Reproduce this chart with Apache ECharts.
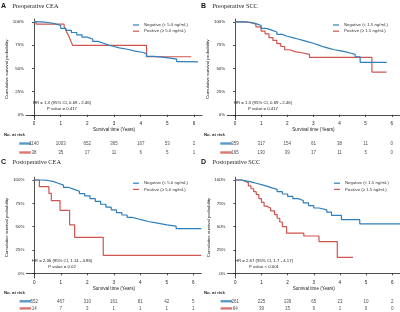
<!DOCTYPE html>
<html>
<head>
<meta charset="utf-8">
<script src="https://cdn.jsdelivr.net/npm/echarts@6/dist/echarts.min.js"></script>
<style>
  html, body { margin: 0; padding: 0; background: #fff; }
  #chart { width: 400px; height: 312px; }
</style>
</head>
<body>
<div id="chart"></div>
<script>
// x ticks / risk table columns
const riskYears = [0, 1, 2, 3, 4, 5, 6]
const survTicks = [0, 0.25, 0.5, 0.75, 1]

// A  Preoperative CEA
const preCeaNegTime = [0, 0.3, 0.6, 0.8, 1.0, 1.2, 1.4, 1.6, 1.8, 2.0, 2.2, 2.4, 2.6, 2.8, 3.0, 3.2, 3.5, 3.8, 4.1, 4.22, 4.5, 4.8, 5.1, 5.35, 5.6, 6.15]
const preCeaNegSurv = [1, 0.99, 0.978, 0.96, 0.93, 0.908, 0.885, 0.86, 0.835, 0.815, 0.79, 0.77, 0.75, 0.735, 0.72, 0.705, 0.685, 0.67, 0.656, 0.628, 0.62, 0.61, 0.6, 0.573, 0.57, 0.57]
const preCeaPosTime = [0, 0.08, 1.13, 1.18, 1.22, 1.27, 1.32, 1.36, 1.4, 1.45, 4.22, 5.9]
const preCeaPosSurv = [1, 0.974, 0.947, 0.92, 0.893, 0.865, 0.836, 0.806, 0.777, 0.747, 0.625, 0.625]
const preCeaRiskNeg = [1140, 1003, 652, 365, 167, 53, 2]
const preCeaRiskPos = [38, 35, 17, 11, 6, 5, 1]

// B  Preoperative SCC
const preSccNegTime = [0, 0.3, 0.6, 0.8, 1.0, 1.2, 1.4, 1.6, 1.8, 2.0, 2.2, 2.4, 2.6, 2.8, 3.0, 3.2, 3.4, 3.6, 3.8, 4.0, 4.2, 4.4, 4.6, 4.79, 5.81]
const preSccNegSurv = [1, 0.995, 0.98, 0.96, 0.93, 0.91, 0.89, 0.865, 0.845, 0.83, 0.815, 0.8, 0.785, 0.77, 0.75, 0.73, 0.715, 0.7, 0.69, 0.68, 0.665, 0.65, 0.625, 0.565, 0.565]
const preSccPosTime = [0, 0.4, 0.6, 0.8, 1.0, 1.15, 1.3, 1.45, 1.6, 1.75, 1.9, 2.1, 2.3, 2.6, 2.85, 5.24, 5.8]
const preSccPosSurv = [1, 0.99, 0.975, 0.945, 0.9, 0.87, 0.83, 0.8, 0.765, 0.735, 0.7, 0.68, 0.665, 0.65, 0.617, 0.46, 0.46]
const preSccRiskNeg = [359, 317, 154, 61, 38, 11, 0]
const preSccRiskPos = [165, 130, 39, 17, 11, 5, 0]

// C  Postoperative CEA
const postCeaNegTime = [0, 0.3, 0.5, 0.7, 0.9, 1.1, 1.3, 1.5, 1.7, 1.9, 2.1, 2.3, 2.5, 2.7, 2.9, 3.1, 3.3, 3.5, 3.7, 3.9, 4.1, 4.3, 4.6, 5.0, 5.35, 6.3]
const postCeaNegSurv = [1, 0.995, 0.985, 0.965, 0.945, 0.92, 0.9, 0.88, 0.855, 0.83, 0.8, 0.77, 0.74, 0.71, 0.68, 0.65, 0.625, 0.6, 0.585, 0.57, 0.555, 0.54, 0.52, 0.505, 0.48, 0.48]
const postCeaPosTime = [0, 0.19, 0.55, 0.64, 0.97, 1.33, 1.52, 2.6, 6.3]
const postCeaPosSurv = [1, 0.929, 0.857, 0.778, 0.675, 0.52, 0.386, 0.193, 0.193]
const postCeaRiskNeg = [552, 467, 310, 161, 81, 42, 5]
const postCeaRiskPos = [14, 7, 3, 1, 1, 1, 1]

// D  Postoperative SCC
const postSccNegTime = [0, 0.2, 0.4, 0.6, 0.8, 1.0, 1.2, 1.4, 1.6, 1.8, 2.0, 2.2, 2.4, 2.6, 2.8, 3.0, 3.2, 3.5, 3.68, 4.06, 4.76, 6.3]
const postSccNegSurv = [1, 0.99, 0.98, 0.965, 0.95, 0.935, 0.915, 0.9, 0.875, 0.85, 0.825, 0.8, 0.78, 0.755, 0.725, 0.7, 0.68, 0.655, 0.62, 0.575, 0.53, 0.53]
const postSccPosTime = [0, 0.25, 0.4, 0.5, 0.6, 0.7, 0.8, 0.9, 1.0, 1.1, 1.2, 1.35, 1.5, 1.6, 1.7, 1.8, 1.96, 2.62, 3.2, 3.9, 4.5]
const postSccPosSurv = [1, 0.984, 0.969, 0.937, 0.906, 0.875, 0.844, 0.8, 0.76, 0.72, 0.7, 0.67, 0.63, 0.59, 0.55, 0.5, 0.43, 0.4, 0.34, 0.17, 0.17]
const postSccRiskNeg = [261, 225, 139, 65, 23, 10, 2]
const postSccRiskPos = [64, 39, 15, 9, 1, 0, 0]

const BLUE = '#2f7fba'
const RED = '#cf5550'
const ceaNames = ['Negative (< 5.0 ng/mL)', 'Positive (\u2265 5.0 ng/mL)']
const sccNames = ['Negative (< 1.5 ng/mL)', 'Positive (\u2265 1.5 ng/mL)']

const panels = [
  { letter: 'A', title: 'Preoperative CEA', names: ceaNames, x0: 0, y0: 0, left: 26, width: 176, top: 19, height: 100.6, riskTop: 139, riskH: 18,
    neg: [preCeaNegTime, preCeaNegSurv], pos: [preCeaPosTime, preCeaPosSurv], risk: [preCeaRiskNeg, preCeaRiskPos],
    hr: 'HR = 1.3 (95% CI, 0.69 - 2.46)', p: 'P value = 0.417', hrX: 62, legendLeft: 133 },
  { letter: 'B', title: 'Preoperative SCC', names: sccNames, x0: 200, y0: 0, left: 227.2, width: 172.4, top: 19, height: 100.6, riskTop: 139, riskH: 18,
    neg: [preSccNegTime, preSccNegSurv], pos: [preSccPosTime, preSccPosSurv], risk: [preSccRiskNeg, preSccRiskPos],
    hr: 'HR = 1.3 (95% CI, 0.69 - 2.46)', p: 'P value = 0.417', hrX: 263, legendLeft: 333 },
  { letter: 'C', title: 'Postoperative CEA', names: ceaNames, x0: 0, y0: 156, left: 26.4, width: 174.9, top: 177.2, height: 100.8, riskTop: 297.7, riskH: 17,
    neg: [postCeaNegTime, postCeaNegSurv], pos: [postCeaPosTime, postCeaPosSurv], risk: [postCeaRiskNeg, postCeaRiskPos],
    hr: 'HR = 2.36 (95% CI, 1.14 - 4.86)', p: 'P value = 0.02', hrX: 62, legendLeft: 133 },
  { letter: 'D', title: 'Postoperative SCC', names: sccNames, x0: 200, y0: 156, left: 227.5, width: 172.7, top: 177.2, height: 100.8, riskTop: 297.7, riskH: 17,
    neg: [postSccNegTime, postSccNegSurv], pos: [postSccPosTime, postSccPosSurv], risk: [postSccRiskNeg, postSccRiskPos],
    hr: 'HR = 2.67 (95% CI, 1.7 - 4.17)', p: 'P value < 0.001', hrX: 264, legendLeft: 334 }
]

const zip = (a, b) => a.map((v, i) => [v, b[i]])
const sans = 'Liberation Sans, Arial, sans-serif'

// plot grids/axes take index 0-3, risk tables 4-7
const plotGrid = [], plotX = [], plotY = []
const riskGrid = [], riskX = [], riskY = []
const series = [], legend = [], graphic = []

panels.forEach((p, i) => {
  plotGrid.push({ left: p.left, top: p.top, width: p.width, height: p.height })
  plotX.push({
    gridIndex: i, type: 'value', min: -0.3, max: 6.3,
    name: 'Survival time (Years)', nameLocation: 'middle', nameGap: 8,
    nameTextStyle: { fontSize: 4.6, color: '#222', fontFamily: sans },
    axisLine: { lineStyle: { color: '#222', width: 0.8 } },
    axisTick: { length: 2, lineStyle: { color: '#222', width: 0.8 }, customValues: riskYears },
    axisLabel: { fontSize: 4.6, color: '#222', margin: 2, fontFamily: sans, customValues: riskYears },
    splitLine: { show: false }
  })
  plotY.push({
    gridIndex: i, type: 'value', min: -0.05, max: 1.03,
    name: 'Cumulative survival probability', nameLocation: 'middle', nameGap: 14, nameRotate: 90,
    nameTextStyle: { fontSize: 4.4, color: '#222', fontFamily: sans },
    axisLine: { show: true, lineStyle: { color: '#222', width: 0.8 } },
    axisTick: { show: true, length: 2, lineStyle: { color: '#222', width: 0.8 }, customValues: survTicks },
    axisLabel: { fontSize: 4.4, color: '#222', margin: 2, fontFamily: sans, customValues: survTicks,
      formatter: v => Math.round(v * 100) + '%' },
    splitLine: { show: false }
  })
  series.push(
    { name: p.names[0], type: 'line', step: 'end', xAxisIndex: i, yAxisIndex: i, showSymbol: false,
      lineStyle: { color: BLUE, width: 1.2 }, itemStyle: { color: BLUE }, data: zip(p.neg[0], p.neg[1]), z: 3 },
    { name: p.names[1], type: 'line', step: 'end', xAxisIndex: i, yAxisIndex: i, showSymbol: false,
      lineStyle: { color: RED, width: 1.2 }, itemStyle: { color: RED }, data: zip(p.pos[0], p.pos[1]), z: 2 }
  )
  legend.push({
    data: p.names, left: p.legendLeft, top: p.top + 4, orient: 'vertical',
    icon: 'rect', itemWidth: 6, itemHeight: 1.2, itemGap: 2.2, padding: 0,
    textStyle: { fontSize: 4.3, color: '#333', fontFamily: sans }
  })

  // risk table
  const r = 4 + i
  riskGrid.push({ left: p.left, top: p.riskTop, width: p.width, height: p.riskH })
  riskX.push({ gridIndex: r, type: 'value', min: -0.3, max: 6.3, show: false })
  riskY.push({ gridIndex: r, type: 'value', min: -0.5, max: 1.5, inverse: true, show: false })
  ;[0, 1].forEach(row => {
    const col = row === 0 ? BLUE : RED
    series.push({
      type: 'scatter', xAxisIndex: r, yAxisIndex: r, symbolSize: 0, silent: true,
      data: p.risk[row].map((n, k) => [riskYears[k], row, n]),
      label: { show: true, position: 'inside', formatter: d => d.value[2], fontSize: 4.5, color: '#222', fontFamily: sans }
    }, {
      type: 'scatter', xAxisIndex: r, yAxisIndex: r, silent: true,
      symbol: 'rect', symbolSize: [11.5, 2.4], symbolOffset: [-9, 0],
      itemStyle: { color: col }, data: [[riskYears[0], row]]
    })
  })

  graphic.push(
    { type: 'text', left: p.x0 + 1, top: p.y0 + 2.5, style: { text: p.letter, font: 'bold 7px ' + sans, fill: '#111' } },
    { type: 'text', left: p.x0 + 12.5, top: p.y0 + 3, style: { text: p.title, font: '6.3px "Liberation Serif", "DejaVu Serif", serif', fill: '#222' } },
    { type: 'text', x: p.hrX, y: p.top + 84, style: { text: p.hr, font: '4.3px ' + sans, fill: '#222', align: 'center', verticalAlign: 'middle' } },
    { type: 'text', x: p.hrX, y: p.top + 89.5, style: { text: p.p, font: '4.3px ' + sans, fill: '#222', align: 'center', verticalAlign: 'middle' } },
    { type: 'text', left: p.x0 + 4, top: p.riskTop - 6.5, style: { text: 'No. at risk', font: 'bold 4.3px ' + sans, fill: '#222' } }
  )
})

const chart = echarts.init(document.getElementById('chart'))
chart.setOption({
  backgroundColor: '#fff',
  animation: false,
  grid: plotGrid.concat(riskGrid),
  xAxis: plotX.concat(riskX),
  yAxis: plotY.concat(riskY),
  series, legend, graphic
})
</script>
</body>
</html>
